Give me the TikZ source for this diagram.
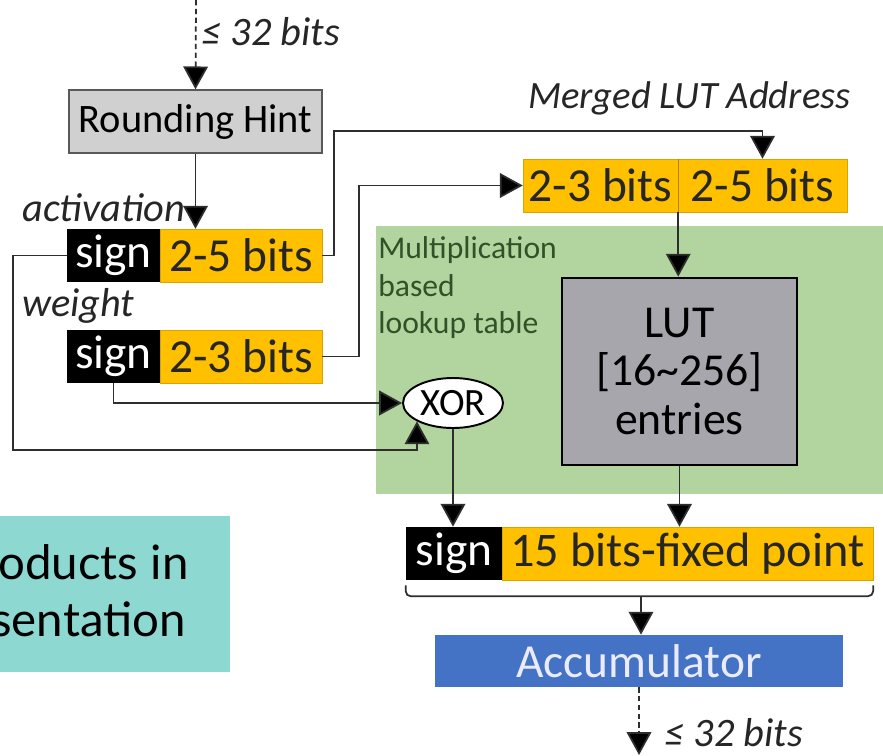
\documentclass[tikz,border=0pt]{standalone}
\usepackage{fontspec}
\setmainfont{Carlito}
\newfontfamily\tealfont{Lato}
\usetikzlibrary{arrows.meta,shapes.geometric}

\definecolor{bitsyellow}{HTML}{FFC000}
\definecolor{hintgray}{HTML}{D0D0D0}
\definecolor{lutgray}{HTML}{A7A6AD}
\definecolor{lutgreen}{HTML}{B2D49E}
\definecolor{labelgreen}{HTML}{2F5228}
\definecolor{accblue}{HTML}{4472C4}
\definecolor{tealbox}{HTML}{8DD8D1}
\definecolor{wiregray}{HTML}{2E2E2E}

\begin{document}
\begin{tikzpicture}[
    x=0.02cm, y=-0.02cm,
    wire/.style={draw=wiregray, line width=1pt},
    arr/.style={wire, -{Triangle[width=14pt,length=13pt,fill=black]}},
    dasharr/.style={arr, dash pattern=on 3pt off 2pt},
    signbox/.style={fill=black, text=white, inner sep=0pt,
        minimum width=1.86cm, minimum height=1.06cm,
        font=\fontsize{27}{29}\selectfont},
    bitsbox/.style={fill=bitsyellow, draw=bitsyellow!85!black, line width=0.3pt,
        text=black!85, inner sep=0pt, minimum height=1.06cm,
        font=\fontsize{27}{29}\selectfont},
    tag/.style={font=\fontsize{23}{25}\selectfont\itshape, text=black!85, inner sep=0pt}
]
\useasboundingbox (0,0) rectangle (883,755);

% background panels
\fill[lutgreen] (376,226) rectangle (883,494);
\begin{scope}
    \clip (0,516) rectangle (230,672);
    \fill[tealbox] (0,516) rectangle (230,672);
    \node[anchor=base west, inner sep=0pt, font=\tealfont\fontsize{27}{30}\selectfont] (teal1) at (-2,579) {oducts in};
    \node[anchor=base west, inner sep=0pt, font=\tealfont\fontsize{27}{30}\selectfont] (teal2) at (-9,636) {sentation};
\end{scope}

% input side
\coordinate (in) at (196,0);
\node[tag, anchor=base west] (inlbl) at (201,45) {≤ 32 bits};

\node[fill=hintgray, draw=black!65, line width=0.8pt, inner sep=0pt,
    minimum width=5.06cm, minimum height=1.26cm,
    font=\fontsize{23}{25}\selectfont] (hint) at (195.5,121.5) {Rounding Hint};

\node[tag, anchor=base west] (actlbl) at (22,221) {activation};
\node[signbox] (asign) at (113.5,255.5) {sign};
\node[bitsbox, minimum width=3.24cm] (abits) at (241,255.5) {2-5 bits};

\node[tag, anchor=base west] (wgtlbl) at (22,316) {weight};
\node[signbox] (wsign) at (113.5,356.5) {sign};
\node[bitsbox, minimum width=3.24cm] (wbits) at (241,356.5) {2-3 bits};

% merged address
\node[tag, anchor=base east, font=\fontsize{22}{24}\selectfont\itshape] (addrlbl) at (851,108) {Merged LUT Address};
\node[bitsbox, minimum width=3.1cm] (mleft) at (600.5,185.5) {2-3 bits};
\node[bitsbox, minimum width=3.38cm] (mright) at (762.5,185.5) {2-5 bits};
\draw[draw=bitsyellow!70!black, line width=0.4pt] (mleft.north east) -- (mleft.south east);

% lookup table
\node[anchor=north west, align=left, inner sep=0pt, text=labelgreen,
    font=\fontsize{18}{21.5}\selectfont] (mbl) at (378,236)
    {Multiplication\\based\\lookup table};
\node[fill=lutgray, draw=black, line width=1.6pt, inner sep=0pt,
    minimum width=4.7cm, minimum height=3.74cm, align=center,
    font=\fontsize{26}{27.5}\selectfont] (lut) at (679.5,371.5)
    {LUT\\{[}16\char`~256{]}\\entries};
\node[ellipse, fill=white, draw=black, line width=1.1pt, inner sep=0pt,
    minimum width=2cm, minimum height=1cm,
    font=\fontsize{22}{24}\selectfont] (xor) at (453,403) {XOR};

% output
\node[signbox, minimum width=1.92cm] (osign) at (454,553.5) {sign};
\node[bitsbox, minimum width=7.42cm, font=\fontsize{27.5}{29}\selectfont] (obits) at (687.5,553.5) {15 bits-fixed point};
\node[fill=accblue, inner sep=0pt, minimum width=8.16cm, minimum height=1.04cm,
    text=blue!8!white, font=\fontsize{27}{29}\selectfont] (acc) at (639,661) {Accumulator};
\coordinate (out) at (639,755);
\node[tag, anchor=base west] (outlbl) at (664,746) {≤ 32 bits};

% connectors
\coordinate (addrA) at (334,131);
\coordinate (addrW) at (359,185.5);
\coordinate (loopA) at (13,450);
\coordinate (brc) at (641,596);

\draw[dasharr] (in) -- (hint.north);
\draw[arr] (hint.south) -- (hint.south |- abits.north);
\draw[arr] (abits.east) -| (addrA) -| (mright.north);
\draw[arr] (wbits.east) -| (addrW) -- (mleft.west);
\draw[arr] (mleft.south east) -- (mleft.south east |- lut.north);
\draw[arr] (wsign.south) |- (xor.west);
\draw[arr] (asign.west) -| (loopA) -| (xor.south west);
\draw[arr] (xor.south) -- (xor.south |- osign.north);
\draw[arr] (lut.south) -- (lut.south |- obits.north);
\draw[wire, rounded corners=3pt] ([yshift=-0.1cm]osign.south west)
    -- ([yshift=-0.32cm]osign.south west)
    -- ([yshift=-0.32cm]obits.south east)
    -- ([yshift=-0.1cm]obits.south east);
\draw[arr] (brc) -- (brc |- acc.north);
\draw[dasharr] (acc.south) -- (out);

\end{tikzpicture}
\end{document}
